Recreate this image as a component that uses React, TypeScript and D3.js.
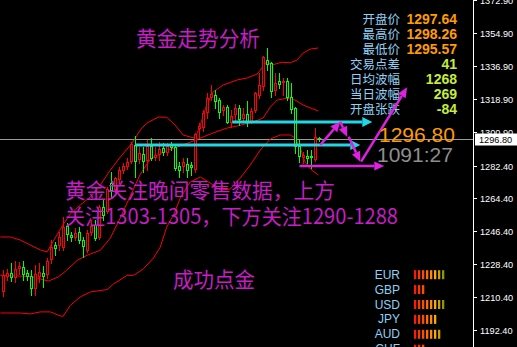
import React from "react";
import * as d3 from "d3";

// ---- candle data (index 0..79) ----
const opens = [1213.2,1221.6,1223.8,1221.0,1225.8,1227.0,1223.8,1221.9,1214.7,1221.2,1223.8,1222.5,1230.7,1238.9,1238.5,1237.1,1249.3,1244.4,1242.6,1246.2,1241.6,1235.8,1245.3,1249.9,1242.6,1259.5,1257.1,1273.0,1269.0,1274.5,1279.5,1281.7,1284.5,1293.6,1285.4,1288.7,1285.0,1293.1,1286.3,1288.1,1291.8,1289.4,1294.2,1292.7,1282.1,1281.7,1283.2,1282.7,1279.9,1302.2,1302.7,1311.3,1319.2,1321.0,1318.2,1312.4,1314.6,1305.8,1310.0,1313.7,1307.7,1310.6,1306.4,1312.4,1320.4,1325.5,1340.1,1338.6,1323.3,1328.6,1327.4,1328.6,1319.7,1313.7,1293.1,1286.3,1287.6,1287.6,1285.4,1297.64];
const highs = [1225.2,1225.8,1229.0,1230.2,1229.6,1230.2,1225.4,1225.2,1228.0,1229.1,1227.6,1231.6,1241.6,1240.7,1246.2,1254.4,1250.8,1246.2,1248.2,1249.0,1243.4,1247.1,1252.6,1252.6,1260.8,1263.5,1270.8,1279.0,1276.3,1281.7,1283.9,1286.3,1295.4,1298.7,1292.7,1292.7,1296.3,1297.4,1292.7,1295.4,1294.5,1294.9,1295.4,1293.6,1284.5,1286.3,1286.3,1284.5,1300.0,1305.5,1312.8,1321.9,1326.4,1323.7,1319.2,1315.5,1315.5,1312.8,1316.0,1315.5,1313.7,1317.8,1313.7,1322.8,1332.8,1342.3,1346.7,1339.2,1332.8,1332.8,1330.1,1330.1,1327.4,1314.6,1296.3,1290.0,1290.9,1290.9,1302.7,1298.26];
const lows = [1211.0,1219.8,1219.2,1218.7,1223.0,1219.8,1219.8,1211.6,1211.6,1218.7,1215.9,1220.8,1229.1,1233.4,1236.2,1236.2,1241.6,1241.3,1241.6,1239.8,1232.5,1235.2,1244.4,1241.6,1242.0,1252.6,1256.2,1265.3,1268.1,1272.6,1278.1,1280.3,1283.6,1276.1,1283.6,1279.0,1279.9,1285.4,1285.4,1285.4,1288.1,1288.1,1290.9,1279.9,1276.3,1279.0,1276.3,1277.2,1279.0,1298.2,1301.4,1308.2,1318.2,1313.7,1308.2,1310.0,1305.5,1303.3,1306.4,1304.6,1306.9,1304.0,1305.8,1311.8,1319.2,1323.7,1334.6,1320.0,1321.0,1324.6,1321.0,1318.2,1310.9,1289.1,1284.5,1283.6,1283.6,1281.0,1284.9,1295.57];
const closes = [1222.5,1223.8,1221.0,1225.8,1227.4,1222.5,1221.6,1214.7,1223.0,1224.3,1221.6,1230.2,1238.0,1236.6,1243.1,1248.6,1244.4,1242.6,1245.6,1241.3,1237.6,1245.3,1249.3,1242.2,1259.5,1254.8,1269.4,1268.6,1275.4,1279.9,1282.3,1284.5,1294.2,1284.5,1289.2,1284.5,1293.1,1285.8,1288.1,1291.3,1289.1,1293.1,1291.8,1280.3,1279.5,1284.5,1279.5,1280.9,1299.6,1304.0,1311.3,1319.2,1321.5,1317.3,1311.3,1314.6,1305.8,1309.5,1313.7,1307.3,1310.6,1305.5,1312.4,1321.9,1326.4,1341.6,1337.4,1322.8,1327.5,1326.4,1328.6,1319.2,1312.8,1292.7,1286.9,1288.1,1285.8,1286.3,1297.8,1296.80];

// ---- Bollinger bands: [candle index, price] ----
const upperBand: [number, number][] = [[-0.6,1243.3],[1.9,1243.3],[4.4,1241.6],[6.9,1238.9],[9.4,1236.2],[11.1,1235.1],[13.1,1242.7],[14.9,1249.3],[16.9,1255.9],[19.4,1260.8],[21.9,1265.2],[24.4,1271.7],[26.9,1279.9],[29.4,1287.0],[32.3,1294.5],[34.4,1301.8],[36.0,1305.6],[38.9,1308.9],[41.0,1308.8],[43.1,1304.5],[45.1,1299.1],[46.9,1298.0],[48.1,1297.3],[49.4,1304.5],[51.0,1315.5],[52.6,1322.6],[55.1,1326.4],[58.6,1329.2],[61.1,1330.3],[63.6,1332.4],[64.8,1335.7],[65.9,1339.0],[67.3,1337.4],[69.8,1338.9],[71.9,1338.6],[73.6,1340.1],[75.1,1343.9],[76.9,1346.1],[78.9,1346.7]];
const middleBand: [number, number][] = [[-0.6,1222.3],[4.4,1221.9],[7.6,1221.4],[11.4,1219.2],[13.9,1221.4],[16.0,1225.1],[18.6,1230.5],[21.1,1233.3],[24.4,1236.0],[26.9,1242.7],[29.4,1253.7],[31.9,1265.7],[34.4,1277.7],[36.9,1285.9],[40.1,1289.8],[43.6,1292.5],[46.9,1295.2],[50.1,1298.0],[52.6,1300.2],[56.1,1302.9],[58.6,1304.0],[62.6,1306.2],[65.1,1308.4],[66.9,1314.4],[68.6,1318.2],[71.1,1319.2],[73.1,1318.2],[75.1,1315.5],[78.9,1312.2]];
const lowerBand: [number, number][] = [[-0.6,1201.7],[4.4,1201.7],[6.9,1201.2],[9.4,1202.3],[11.9,1202.3],[14.4,1200.1],[15.1,1199.9],[16.9,1205.9],[19.4,1210.5],[21.9,1213.2],[26.1,1214.5],[27.7,1217.6],[31.1,1222.3],[32.7,1222.3],[35.2,1225.9],[37.7,1231.8],[39.4,1237.8],[41.0,1248.7],[42.7,1255.3],[44.4,1264.6],[46.9,1273.4],[49.4,1276.1],[51.9,1272.8],[54.4,1269.0],[56.9,1269.5],[59.4,1275.6],[61.9,1282.7],[64.4,1290.9],[66.9,1296.9],[69.4,1299.1],[71.9,1299.1],[73.1,1297.4],[74.4,1292.0],[75.6,1284.3],[76.9,1280.5],[78.9,1277.2]];

// ---- axis ----
const axisTicks = [1372.9, 1354.9, 1336.9, 1318.9, 1300.9, 1282.4, 1264.4, 1246.4, 1228.4, 1210.4, 1192.4];
const lastPrice = 1296.8;

// ---- annotations (candle index, price) ----
const cyanFrom: [number, number][] = [[57.4, 1306.2], [33.1, 1293.6]];
const cyanTo: [number, number][] = [[92.4, 1306.2], [89.4, 1293.6]];
const magentaFrom: [number, number][] = [[74.2, 1282.1], [79.4, 1293.6], [84.4, 1306.4], [86.5, 1298.1], [89.6, 1284.5]];
const magentaTo: [number, number][] = [[95.4, 1282.1], [84.4, 1306.4], [86.1, 1298.1], [89.4, 1284.5], [101.1, 1325.2]];

// ---- info panel ----
const infoLabels = ["开盘价", "最高价", "最低价", "交易点差", "日均波幅", "当日波幅", "开盘张跌"];
const infoValues = ["1297.64", "1298.26", "1295.57", "41", "1268", "269", "-84"];
const bigPrice = "1296.80";
const countdown = "1091:27";

// ---- currency strength ----
const currencies = ["EUR", "GBP", "USD", "JPY", "AUD", "CHF"];
const strengths = [8, 3, 8, 6, 7, 3];
const barColors = ["#ff1a00", "#ff3300", "#ff4d00", "#ff6a00", "#ff8a00", "#ffa800", "#c8a000", "#8c9800"];

// ---- texts ----
const title = "黄金走势分析";
const note1 = "黄金关注晚间零售数据，上方";
const note2 = "关注1303-1305，下方关注1290-1288";
const brand = "成功点金";

const W = 517;
const H = 347;
const MAG = "#e020e0";
const CYAN = "#22d6e6";
const TXT = "#c41ec4";

function arrow(x1: number, y1: number, x2: number, y2: number, len: number, half: number) {
  const dx = x2 - x1, dy = y2 - y1;
  const L = Math.hypot(dx, dy);
  const ux = dx / L, uy = dy / L;
  const bx = x2 - ux * len, by = y2 - uy * len;
  const px = -uy, py = ux;
  return {
    bx, by,
    pts: `${x2},${y2} ${bx + px * half},${by + py * half} ${bx - px * half},${by - py * half}`,
  };
}

export default function App() {
  React.useEffect(() => {
    document.body.style.margin = "0";
  }, []);

  const x = d3.scaleLinear().domain([0, 79]).range([2.7, 318.7]);
  const y = d3.scaleLinear().domain([1192.4, 1354.9]).range([330, 33]);
  const line = d3.line<[number, number]>().x((d) => x(d[0])).y((d) => y(d[1]));

  const cjk = "'Noto Sans CJK SC', sans-serif";
  const lat = "'Liberation Sans', Arial, sans-serif";

  const candles = opens.map((o, i) => {
    const c = closes[i];
    const px = Math.round(x(i));
    const bull = c >= o;
    const col = bull ? "#ff0000" : "#00ff00";
    const yt = Math.round(y(Math.max(o, c)));
    const yb = Math.round(y(Math.min(o, c)));
    const yh = Math.round(y(highs[i]));
    const yl = Math.round(y(lows[i]));
    return (
      <g key={i}>
        <line x1={px + 0.5} x2={px + 0.5} y1={yh} y2={yl + 1} stroke={col} strokeWidth={1} />
        {yb - yt >= 2 ? (
          <rect x={px - 0.5} y={yt + 0.5} width={2} height={yb - yt - 1} fill="#000" stroke={col} strokeWidth={1} />
        ) : (
          <line x1={px - 1.5} x2={px + 2.5} y1={yt + 0.5} y2={yt + 0.5} stroke={col} strokeWidth={1} />
        )}
      </g>
    );
  });

  const lastY = Math.round(y(lastPrice)) + 0.5;

  return (
    <svg width={W} height={H} style={{ position: "absolute", left: 0, top: 0, background: "#000" }}>
      <rect x={0} y={0} width={W} height={H} fill="#000" />

      {/* last price line */}
      <line x1={0} x2={473} y1={lastY} y2={lastY} stroke="#9a9a9a" strokeWidth={1} />

      {/* bands */}
      {[upperBand, middleBand, lowerBand].map((b, k) => (
        <path key={k} d={line(b) || ""} fill="none" stroke="#ff0000" strokeWidth={1} />
      ))}

      {/* candles */}
      {candles}

      {/* texts */}
      <text x={136} y={46} fontFamily={cjk} fontSize={21} fill={TXT} textLength={124} lengthAdjust="spacingAndGlyphs">{title}</text>

      {/* info panel */}
      {infoLabels.map((l, k) => (
        <g key={l}>
          <text x={400} y={18.5 + 15 * k} dominantBaseline="central" textAnchor="end" fontFamily={cjk} fontSize={12.5} fill="#8fd0f4">{l}</text>
          <text x={457} y={18.5 + 15 * k} dominantBaseline="central" textAnchor="end" fontFamily={lat} fontWeight="bold" fontSize={14} fill={k < 3 ? "#ff9c00" : "#c4ec3c"}>{infoValues[k]}</text>
        </g>
      ))}

      {/* cyan arrows */}
      {cyanFrom.map((f, k) => {
        const x1 = x(f[0]), y1 = y(f[1]), x2 = x(cyanTo[k][0]), y2 = y(cyanTo[k][1]);
        const a = arrow(x1, y1, x2, y2, 10, 5);
        return (
          <g key={k}>
            <line x1={x1} y1={y1} x2={a.bx} y2={a.by} stroke={CYAN} strokeWidth={3} />
            <polygon points={a.pts} fill={CYAN} />
          </g>
        );
      })}

      {/* magenta arrows */}
      {magentaFrom.map((f, k) => {
        const x1 = x(f[0]), y1 = y(f[1]), x2 = x(magentaTo[k][0]), y2 = y(magentaTo[k][1]);
        const a = arrow(x1, y1, x2, y2, 10, 4.5);
        return (
          <g key={k}>
            <line x1={x1} y1={y1} x2={a.bx} y2={a.by} stroke={MAG} strokeWidth={2.5} />
            <polygon points={a.pts} fill={MAG} />
          </g>
        );
      })}

      <text x={379} y={141.7} fontFamily={lat} fontSize={21} fill="#ff9c00">{bigPrice}</text>
      <text x={377} y={162} fontFamily={lat} fontSize={21} fill="#8e8e8e">{countdown}</text>

      <text x={65} y={198} fontFamily={cjk} fontSize={21} fill={TXT} textLength={270} lengthAdjust="spacingAndGlyphs">{note1}</text>
      <text x={65} y={224} fontFamily={cjk} fontSize={21} fill={TXT} textLength={333} lengthAdjust="spacingAndGlyphs">{note2}</text>
      <text x={173} y={287} fontFamily={cjk} fontSize={21} fill={TXT} textLength={82} lengthAdjust="spacingAndGlyphs">{brand}</text>

      {/* currency strength */}
      {currencies.map((c, k) => {
        const cy = 274.7 + 14.9 * k;
        return (
          <g key={c}>
            <text x={400} y={cy} dominantBaseline="central" textAnchor="end" fontFamily={lat} fontSize={12} fill="#8fd0f4">{c}</text>
            {d3.range(strengths[k]).map((j) => (
              <rect key={j} x={414 + 4 * j} y={cy - 4.5} width={2.3} height={9} fill={barColors[j]} />
            ))}
          </g>
        );
      })}

      {/* price axis */}
      <line x1={473.5} x2={473.5} y1={0} y2={H} stroke="#ffffff" strokeWidth={1} />
      {axisTicks.map((t) => {
        const ty = Math.round(y(t)) + 0.5;
        return (
          <g key={t}>
            <line x1={474} x2={477} y1={ty} y2={ty} stroke="#fff" strokeWidth={1} />
            <text x={480} y={ty} dominantBaseline="central" fontFamily={lat} fontSize={9.2} fill="#fff">{t.toFixed(2)}</text>
          </g>
        );
      })}
      <rect x={475} y={lastY - 6} width={42} height={12} fill="#fff" />
      <text x={479} y={lastY} dominantBaseline="central" fontFamily={lat} fontSize={9.2} fill="#000">{lastPrice.toFixed(2)}</text>
    </svg>
  );
}
